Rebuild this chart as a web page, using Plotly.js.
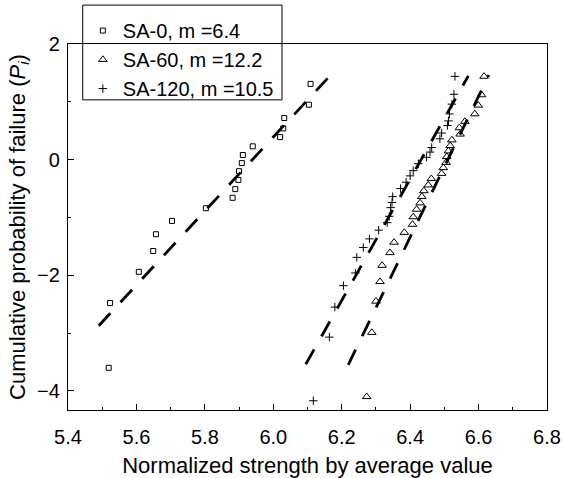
<!DOCTYPE html>
<html>
<head>
<meta charset="utf-8">
<script src="https://cdn.plot.ly/plotly-3.0.1.min.js"></script>
<style>
html,body{margin:0;padding:0;background:#fff;}
#chart{width:562px;height:478px;}
</style>
</head>
<body>
<div id="chart"></div>
<script>
// Series names and Weibull moduli (legend)
const seriesNames = ["SA-0", "SA-60", "SA-120"];
const moduli = [6.4, 12.2, 10.5];

// SA-0 (open squares)
const sa0X = [5.519, 5.523, 5.607, 5.649, 5.657, 5.704, 5.803, 5.881, 5.889, 5.898, 5.900, 5.908, 5.911, 5.940, 6.020, 6.029, 6.032, 6.104, 6.109];
const sa0Y = [-3.60, -2.48, -1.94, -1.58, -1.29, -1.06, -0.84, -0.66, -0.51, -0.35, -0.20, -0.06, 0.08, 0.23, 0.39, 0.54, 0.72, 0.95, 1.31];

// SA-60 (open triangles)
const sa60X = [6.273, 6.288, 6.300, 6.312, 6.318, 6.341, 6.353, 6.383, 6.407, 6.409, 6.419, 6.429, 6.434, 6.440, 6.453, 6.462, 6.492, 6.497, 6.505, 6.507, 6.512, 6.517, 6.522, 6.546, 6.544, 6.560, 6.589, 6.599, 6.609, 6.616];
const sa60Y = [-4.10, -2.99, -2.45, -2.11, -1.83, -1.61, -1.43, -1.26, -1.12, -0.99, -0.86, -0.75, -0.64, -0.54, -0.44, -0.33, -0.24, -0.14, -0.05, 0.05, 0.15, 0.24, 0.34, 0.44, 0.55, 0.66, 0.79, 0.94, 1.12, 1.44];

// SA-120 (plus signs)
const sa120X = [6.117, 6.164, 6.180, 6.205, 6.240, 6.244, 6.263, 6.281, 6.308, 6.333, 6.339, 6.343, 6.347, 6.349, 6.372, 6.388, 6.400, 6.409, 6.424, 6.448, 6.458, 6.463, 6.487, 6.492, 6.509, 6.512, 6.515, 6.522, 6.528, 6.531];
const sa120Y = [-4.17, -3.07, -2.55, -2.18, -1.96, -1.69, -1.52, -1.37, -1.22, -1.09, -0.98, -0.83, -0.74, -0.64, -0.50, -0.39, -0.28, -0.19, -0.07, 0.04, 0.13, 0.21, 0.36, 0.46, 0.59, 0.67, 0.79, 0.96, 1.13, 1.44];

// Fitted lines: y = m * (x - x0), drawn between xStart and xEnd
const fitX0 = [5.939, 6.510, 6.432];
const fitXStart = [5.490, 6.219, 6.095];
const fitXEnd = [6.174, 6.630, 6.570];

const font = "Liberation Sans, Arial, sans-serif";
const symbols = ["square-open", "triangle-up-open", "cross-thin"];
const sizes = [5, 7.5, 6];
const xs = [sa0X, sa60X, sa120X];
const ys = [sa0Y, sa60Y, sa120Y];

const traces = [];
for (let k = 0; k < 3; k++) {
  traces.push({
    x: xs[k], y: ys[k], type: "scatter", mode: "markers",
    name: seriesNames[k] + ", m =" + moduli[k],
    marker: {symbol: symbols[k], size: sizes[k], color: "#000", line: {color: "#000", width: 1}},
    cliponaxis: false
  });
}
for (let k = 0; k < 3; k++) {
  const lx = [fitXStart[k], fitXEnd[k]];
  const ly = lx.map(v => moduli[k] * (v - fitX0[k]));
  traces.push({
    x: lx, y: ly, type: "scatter", mode: "lines", showlegend: false,
    line: {color: "#000", width: 2.8, dash: "17px,15px"},
    hoverinfo: "skip"
  });
}

const layout = {
  width: 562, height: 478,
  margin: {l: 68, r: 15, t: 43, b: 68},
  paper_bgcolor: "#fff", plot_bgcolor: "#fff",
  font: {family: font, color: "#000", size: 20},
  showlegend: true,
  legend: {
    x: 0.031, y: 1.087, xanchor: "left", yanchor: "top",
    bgcolor: "rgba(0,0,0,0)", borderwidth: 0,
    font: {family: font, size: 20, color: "#000"},
    tracegroupgap: 0, itemwidth: 30
  },
  shapes: [{
    type: "rect", xref: "paper", yref: "paper",
    x0: 0.0307, x1: 0.4468, y0: 0.8474, y1: 1.1063,
    line: {color: "#000", width: 1}, fillcolor: "#fff", layer: "below"
  }],
  xaxis: {
    range: [5.4, 6.8], dtick: 0.2, tick0: 5.4, tickformat: ".1f",
    ticks: "inside", ticklen: 6, tickwidth: 1, tickcolor: "#000",
    minor: {dtick: 0.1, ticks: "inside", ticklen: 3, tickwidth: 1, tickcolor: "#000"},
    showline: true, linecolor: "#000", linewidth: 1.2, mirror: true,
    showgrid: false, zeroline: false, ticklabelstandoff: 9,
    tickfont: {family: font, size: 20, color: "#000"},
    title: {text: "Normalized strength by average value", font: {family: font, size: 22, color: "#000"}, standoff: 12}
  },
  yaxis: {
    range: [-4.33, 2], dtick: 2, tick0: 0,
    ticks: "inside", ticklen: 6, tickwidth: 1, tickcolor: "#000",
    minor: {dtick: 1, ticks: "inside", ticklen: 3, tickwidth: 1, tickcolor: "#000"},
    showline: true, linecolor: "#000", linewidth: 1.2, mirror: true,
    showgrid: false, zeroline: false, ticklabelstandoff: 3,
    tickfont: {family: font, size: 20, color: "#000"},
    title: {text: "Cumulative probability of failure (<i>P<sub>i</sub></i>)", font: {family: font, size: 22, color: "#000"}, standoff: 5}
  }
};

Plotly.newPlot("chart", traces, layout, {staticPlot: true, displayModeBar: false});
</script>
</body>
</html>
